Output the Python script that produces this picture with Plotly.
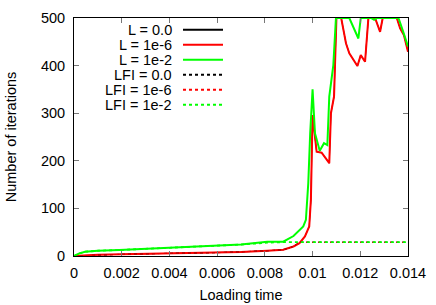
import plotly.graph_objects as go

# ---- data ----
x_l6 = [0.0, 0.0005, 0.001, 0.002, 0.003, 0.004, 0.005, 0.006, 0.007, 0.0081, 0.00877,
        0.0092, 0.00945, 0.00968, 0.00986, 0.00993, 0.0100, 0.01017, 0.01038, 0.0107,
        0.01077, 0.0109, 0.0110, 0.0112, 0.0114, 0.01154, 0.01188, 0.01202, 0.0122,
        0.01234, 0.01262, 0.01283, 0.01294, 0.01353, 0.01367, 0.01383, 0.0140]
y_l6 = [0, 1.5, 2.5, 3.5, 4.5, 5.6, 6.3, 7, 8.5, 11, 13,
        20, 27, 41, 62, 118, 296, 219, 217, 195,
        300, 335, 500, 500, 447, 426, 399, 422, 408,
        500, 500, 471, 500, 500, 478, 464, 429]

x_l2 = [0.0, 0.0002, 0.00046, 0.001, 0.0019, 0.003, 0.004, 0.005, 0.0061, 0.007, 0.0081,
        0.00877, 0.0092, 0.00961, 0.00972, 0.00982, 0.0099, 0.0100, 0.0101, 0.0103,
        0.01048, 0.01062, 0.0107, 0.01087, 0.01098, 0.01154, 0.01192, 0.01202,
        0.01245, 0.01258, 0.0127, 0.0136, 0.0138, 0.0140]
y_l2 = [0, 5, 9, 11, 12.6, 15, 17, 19, 21, 24, 30,
        30, 42, 62, 76, 153, 258, 350, 258, 221,
        237, 233, 335, 401, 500, 500, 457, 500,
        500, 496, 500, 500, 471, 440]

x_l0 = x_l6
y_l0 = y_l6

x_lfi0 = [0.0, 0.001, 0.002, 0.004, 0.006, 0.0081, 0.00877, 0.0092, 0.00945, 0.0140]
y_lfi0 = [0, 2.5, 3.5, 5.6, 7, 11, 13, 20, 29, 29]
x_lfi6 = x_lfi0
y_lfi6 = y_lfi0
x_lfi2 = [0.0, 0.0002, 0.00046, 0.001, 0.0019, 0.003, 0.004, 0.005, 0.0061, 0.007, 0.0081,
          0.00877, 0.0140]
y_lfi2 = [0, 5, 9, 11, 12.6, 15, 17, 19, 21, 24, 28,
          29, 29]

names = ["L = 0.0", "L = 1e-6", "L = 1e-2", "LFI = 0.0", "LFI = 1e-6", "LFI = 1e-2"]
colors = ["#000000", "#ff0000", "#00ff00", "#000000", "#ff0000", "#00ff00"]
dashes = ["solid", "solid", "solid", "dot", "dot", "dot"]
widths = [1.0, 2.0, 2.0, 1.0, 1.0, 1.8]
xs = [x_l0, x_l6, x_l2, x_lfi0, x_lfi6, x_lfi2]
ys = [y_l0, y_l6, y_l2, y_lfi0, y_lfi6, y_lfi2]

x_ticks = [0, 0.002, 0.004, 0.006, 0.008, 0.01, 0.012, 0.014]
x_ticklabels = ["0", "0.002", "0.004", "0.006", "0.008", "0.01", "0.012", "0.014"]
y_ticks = [0, 100, 200, 300, 400, 500]

FONT = "Liberation Sans"
FS = 14.5

fig = go.Figure()
for name, c, d, w, x, y in zip(names, colors, dashes, widths, xs, ys):
    fig.add_trace(go.Scatter(x=x, y=y, name=name, mode="lines",
                             line=dict(color=c, width=w, dash=d),
                             showlegend=False))

# gnuplot-style legend: right-aligned text, line sample to the right
row_h = 15
top = 29.7
for i, (name, c, d) in enumerate(zip(names, colors, dashes)):
    yp = top + i * row_h
    yf = 1 - (yp - 18) / 238
    fig.add_annotation(x=(174 - 74) / 334, y=yf, xref="paper", yref="paper",
                       text=name, showarrow=False, xanchor="right", yanchor="middle",
                       xshift=0, font=dict(family=FONT, size=FS, color="black"))
    fig.add_shape(type="line", xref="paper", yref="paper",
                  x0=(183 - 74) / 334, x1=(223 - 74) / 334, y0=yf, y1=yf,
                  line=dict(color=c, width=2, dash=d))

axis_common = dict(showgrid=False, zeroline=False, showline=True, linecolor="black",
                   linewidth=1, mirror="allticks", ticks="inside", ticklen=5,
                   tickcolor="#777777", automargin=False,
                   tickfont=dict(family=FONT, size=FS, color="black"))

fig.update_layout(
    width=436, height=305,
    margin=dict(l=74, r=28, t=18, b=49, autoexpand=False),
    paper_bgcolor="white", plot_bgcolor="white",
    font=dict(family=FONT, size=FS, color="black"),
    xaxis=dict(range=[0, 0.014], tickvals=x_ticks, ticktext=x_ticklabels,
               ticklabelstandoff=4,
               title=dict(text="Loading time", font=dict(family=FONT, size=FS), standoff=9),
               **axis_common),
    yaxis=dict(range=[0, 500], tickvals=y_ticks, ticklabelstandoff=5,
               title=dict(text="Number of iterations", font=dict(family=FONT, size=FS), standoff=20),
               **axis_common),
)

fig.write_html("out.html", config={"displayModeBar": False},
               post_script="document.body.style.margin='0';document.body.style.padding='0';")
